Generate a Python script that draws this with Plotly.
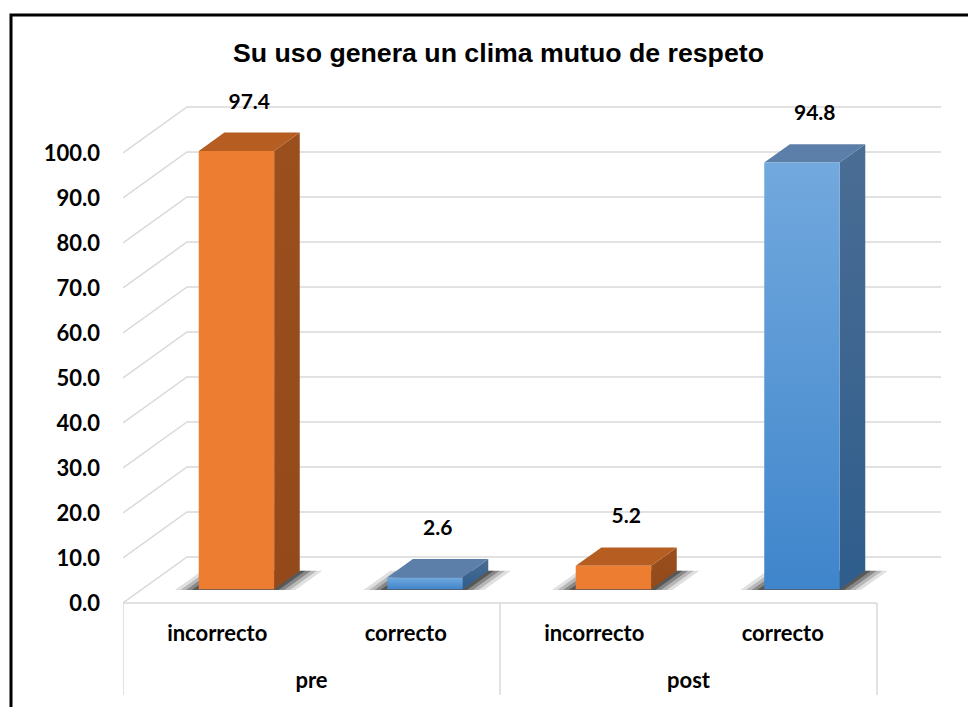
import plotly.graph_objects as go

# ---------------- data ----------------
title_text = "Su uso genera un clima mutuo de respeto"
groups = ["pre", "pre", "post", "post"]
categories = ["incorrecto", "correcto", "incorrecto", "correcto"]
values = [97.4, 2.6, 5.2, 94.8]
y_ticks = [0, 10, 20, 30, 40, 50, 60, 70, 80, 90, 100]

# ---------------- style ----------------
W, H = 968, 699            # page body has an 8px margin
M_L, M_R, M_T, M_B = 115, 16, 82, 7
ZERO_PX = 595              # pixel row of value 0 (front floor edge)
PX_PER_CAT = 188.5
PX_PER_VAL = 4.5
DEPTH_PX_X, DEPTH_PX_Y = 64, 46
DX = DEPTH_PX_X / PX_PER_CAT
DY = DEPTH_PX_Y / PX_PER_VAL
F0, F1 = 0.3, 0.7
HALF_W = 0.2
GRID = "#D9D9D9"
LABEL_FONT = "Lato"
CAT_LABEL_Y = -32 / PX_PER_VAL
GROUP_LABEL_Y = -79 / PX_PER_VAL
DIVIDER_BOTTOM = -92 / PX_PER_VAL
LABEL_GAP = 6.5

styles = {
    "incorrecto": dict(front=("#ED7D31", "#ED7D31"), top="#B65E22", side=("#93491A", "#9B4F1D")),
    "correcto": dict(front=("#3F85CB", "#72A9DE"), top="#5B7FA8", side=("#2F5D8C", "#4A6D94")),
}

plot_w = W - M_L - M_R
plot_h = H - M_T - M_B
x_range = [-0.5, -0.5 + plot_w / PX_PER_CAT]
y_range = [-(H - M_B - ZERO_PX) / PX_PER_VAL, (ZERO_PX - M_T) / PX_PER_VAL]
n = len(values)


def proj(x, y, f):
    return x + f * DX, y + f * DY


def poly(points):
    xs = [p[0] for p in points] + [points[0][0]]
    ys = [p[1] for p in points] + [points[0][1]]
    return xs, ys


NOLINE = dict(width=0, color="rgba(0,0,0,0)")
fig = go.Figure()

# gridlines on the back wall and the side wall
gx, gy = [], []
for t in y_ticks:
    a = proj(-0.5, t, 0)
    b = proj(-0.5, t, 1)
    c = proj(n - 0.5, t, 1)
    gx += [a[0], b[0], c[0], None]
    gy += [a[1], b[1], c[1], None]
fig.add_trace(go.Scatter(x=gx, y=gy, mode="lines", line=dict(color=GRID, width=1.5),
                         hoverinfo="skip", showlegend=False))

# category axis: front floor edge + group dividers
ax_x = [-0.5, n - 0.5, None]
ax_y = [0, 0, None]
group_edges = [-0.5] + [i + 0.5 for i in range(n - 1) if groups[i] != groups[i + 1]] + [n - 0.5]
for e in group_edges:
    ax_x += [e, e, None]
    ax_y += [0, DIVIDER_BOTTOM, None]
fig.add_trace(go.Scatter(x=ax_x, y=ax_y, mode="lines", line=dict(color=GRID, width=1.5),
                         hoverinfo="skip", showlegend=False))

# bars
for i, (cat, v) in enumerate(zip(categories, values)):
    st = styles[cat]
    l, r = i - HALF_W, i + HALF_W
    # soft shadow on the floor
    for ext, op in [(0.12, 0.12), (0.09, 0.18), (0.06, 0.26), (0.03, 0.35)]:
        pts = [proj(l - ext, 0, F0 - 0.02), proj(r + ext, 0, F0 - 0.02),
               proj(r + ext, 0, F1), proj(l - ext, 0, F1)]
        xs, ys = poly(pts)
        fig.add_trace(go.Scatter(x=xs, y=ys, fill="toself", mode="lines",
                                 fillcolor=f"rgba(0,0,0,{op})", line=NOLINE,
                                 hoverinfo="skip", showlegend=False))
    # side face
    xs, ys = poly([proj(r, 0, F0), proj(r, v, F0), proj(r, v, F1), proj(r, 0, F1)])
    fig.add_trace(go.Scatter(x=xs, y=ys, fill="toself", mode="lines",
                             fillgradient=dict(type="vertical", colorscale=[[0, st["side"][0]], [1, st["side"][1]]]),
                             line=NOLINE, hoverinfo="skip", showlegend=False))
    # top face
    xs, ys = poly([proj(l, v, F0), proj(r, v, F0), proj(r, v, F1), proj(l, v, F1)])
    fig.add_trace(go.Scatter(x=xs, y=ys, fill="toself", mode="lines", fillcolor=st["top"],
                             line=NOLINE, hoverinfo="skip", showlegend=False))
    # front face
    xs, ys = poly([proj(l, 0, F0), proj(r, 0, F0), proj(r, v, F0), proj(l, v, F0)])
    fig.add_trace(go.Scatter(x=xs, y=ys, fill="toself", mode="lines",
                             fillgradient=dict(type="vertical", colorscale=[[0, st["front"][0]], [1, st["front"][1]]]),
                             line=NOLINE, hoverinfo="skip", showlegend=False))

# data labels
lx = [proj(i, 0, 0.5)[0] for i in range(n)]
ly = [v + F1 * DY + LABEL_GAP for v in values]
fig.add_trace(go.Scatter(x=lx, y=ly, mode="text", text=[f"{v:.1f}" for v in values],
                         textfont=dict(family=LABEL_FONT, size=21, color="black", weight="bold"),
                         hoverinfo="skip", showlegend=False))

# category labels (two levels)
fig.add_trace(go.Scatter(x=list(range(n)), y=[CAT_LABEL_Y] * n, mode="text", text=categories,
                         textfont=dict(family=LABEL_FONT, size=22, color="black", weight="bold"),
                         hoverinfo="skip", showlegend=False))
group_names, group_pos = [], []
for g in dict.fromkeys(groups):
    idx = [i for i, gg in enumerate(groups) if gg == g]
    group_names.append(g)
    group_pos.append(sum(idx) / len(idx))
fig.add_trace(go.Scatter(x=group_pos, y=[GROUP_LABEL_Y] * len(group_pos), mode="text", text=group_names,
                         textfont=dict(family=LABEL_FONT, size=22, color="black", weight="bold"),
                         hoverinfo="skip", showlegend=False))

# outer frame (pixel positions converted to paper units)
def px_to_paper_x(px):
    return (px - M_L) / plot_w


def px_to_paper_y(py):
    return (H - M_B - py) / plot_h


fig.update_layout(
    width=W, height=H,
    margin=dict(l=M_L, r=M_R, t=M_T, b=M_B),
    paper_bgcolor="white", plot_bgcolor="white",
    title=dict(text=f"<b>{title_text}</b>", x=490.5 / W, xref="container", xanchor="center",
               y=1 - 45 / H, yref="container", yanchor="middle",
               font=dict(family="Liberation Sans", size=26.7, color="black")),
    xaxis=dict(range=x_range, visible=False, fixedrange=True),
    yaxis=dict(range=y_range, tickvals=y_ticks, tickformat=".1f", showgrid=False, zeroline=False,
               showline=False, ticks="", ticklabelstandoff=22, fixedrange=True,
               tickfont=dict(family=LABEL_FONT, size=22, color="black", weight="bold")),
    shapes=[dict(type="rect", xref="paper", yref="paper",
                 x0=px_to_paper_x(3), x1=px_to_paper_x(W + 20),
                 y0=px_to_paper_y(H + 20), y1=px_to_paper_y(7),
                 line=dict(color="black", width=3), fillcolor="rgba(0,0,0,0)", layer="above")],
)

fig.write_html("out.html")
